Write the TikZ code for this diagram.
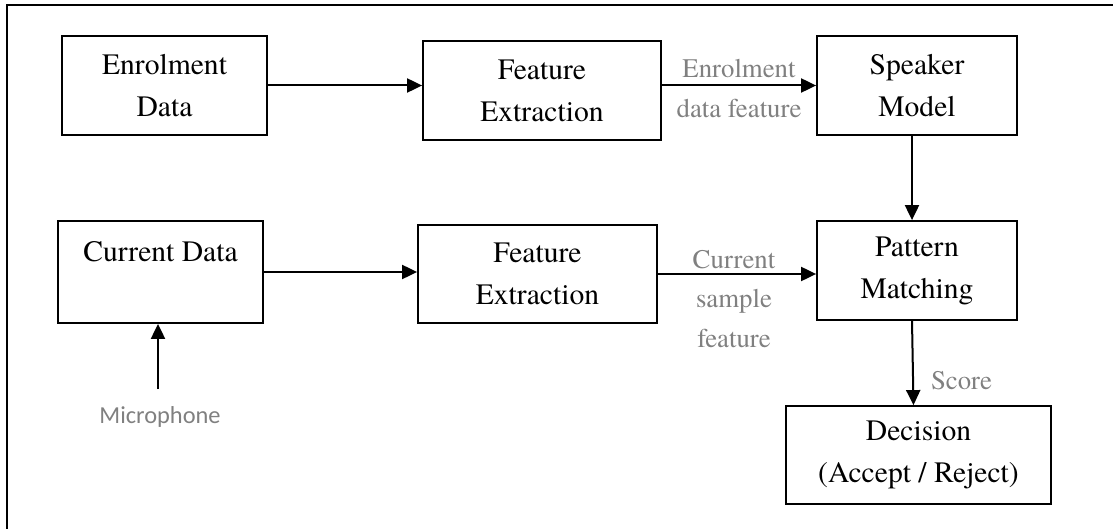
\documentclass[tikz,border=0pt]{standalone}
\usepackage{fontspec}
\setmainfont{TeX Gyre Termes}
\newfontfamily\micfont{Carlito}
\usetikzlibrary{arrows.meta}
\definecolor{labelgray}{RGB}{128,128,128}
\tikzset{
  block/.style={draw,line width=0.9pt,align=center,inner sep=0pt,
    font=\fontsize{14.8}{21}\selectfont},
  flowlabel/.style={labelgray,align=center,inner sep=0pt,
    font=\fontsize{13.4}{19.8}\selectfont},
  flow/.style={-{Triangle[length=7.5pt,width=7pt]},line width=1pt}
}

\begin{document}
\begin{tikzpicture}[x=0.5pt,y=-0.5pt]
  \useasboundingbox (0,0) rectangle (1113,529);
  % Outer frame, only its top and left edges are on the page
  \draw[line width=1.2pt] (7,529) -- (7,5) -- (1113,5);

  % Enrolment branch
  \node[block,minimum width=102.5pt,minimum height=49.5pt]
    (enrol) at (164.5,85.5) {Enrolment\\Data};
  \node[block,minimum width=119pt,minimum height=49.5pt]
    (featA) at (542,90.5) {Feature\\Extraction};
  \node[block,minimum width=100pt,minimum height=49.5pt]
    (speaker) at (917,85.5) {Speaker\\Model};

  % Test branch
  \node[block,minimum width=102.5pt,minimum height=51pt]
    (current) at (160.5,272) {Current Data\\\mbox{}};
  \node[block,minimum width=119.5pt,minimum height=49pt]
    (featB) at (537.5,274) {Feature\\Extraction};
  \node[block,minimum width=100pt,minimum height=49.5pt]
    (match) at (917,270.5) {Pattern\\Matching};
  \node[block,minimum width=132.5pt,minimum height=49pt]
    (decide) at (918.5,455) {Decision\\(Accept / Reject)};

  % Microphone input
  \node[labelgray,inner sep=0pt,font=\micfont\fontsize{12.2}{14}\selectfont]
    (mic) at (160,417) {Microphone};
  \coordinate (micend) at (158,389);

  % Flow labels
  \node[flowlabel] (enrolfeat) at (739,88.5) {Enrolment\\data feature};
  \node[flowlabel] (curfeat) at (734,299) {Current\\sample\\feature};
  \node[flowlabel] (score) at (961.5,381) {Score};

  % Connectors
  \draw[flow] (enrol.east) -- (enrol.east -| featA.west);
  \draw[flow] (speaker.west -| featA.east) -- (speaker.west);
  \draw[flow] ([xshift=-2.5pt]speaker.south) -- ([xshift=-2.5pt]match.north);
  \draw[flow] (current.east) -- (current.east -| featB.west);
  \draw[flow] (featB.east) -- (featB.east -| match.west);
  \draw[flow] ([xshift=-2.5pt]match.south) -- ([xshift=-2.5pt]decide.north);
  \draw[flow] (micend) -- (micend |- current.south);
\end{tikzpicture}
\end{document}
